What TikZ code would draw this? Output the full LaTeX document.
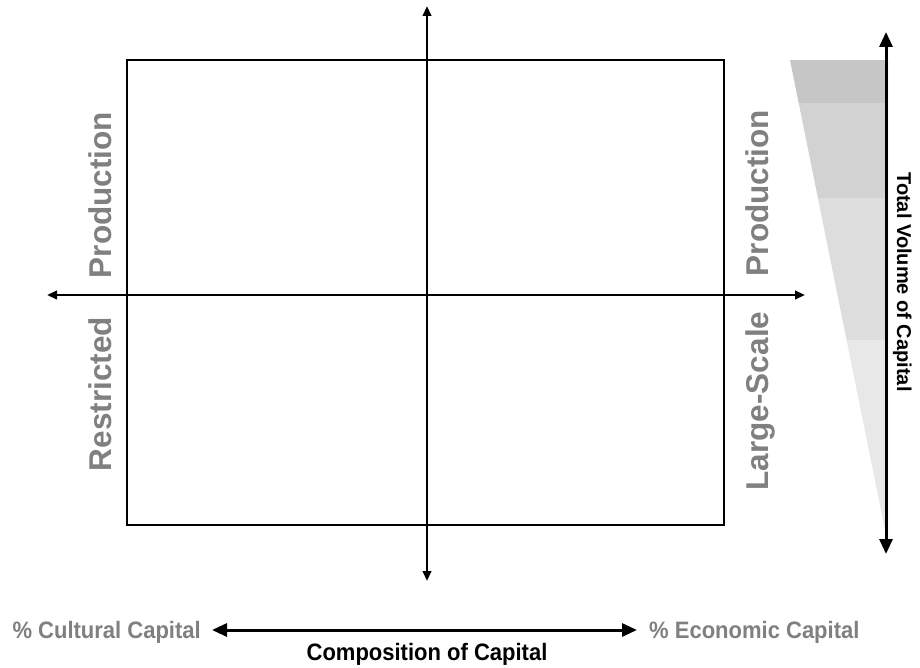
\documentclass[tikz,border=0pt]{standalone}
\usepackage{fontspec}
\setmainfont{Liberation Sans}
\usetikzlibrary{arrows.meta}
\definecolor{labelgray}{HTML}{808080}
\definecolor{bandA}{HTML}{C6C6C6}
\definecolor{bandB}{HTML}{D2D2D2}
\definecolor{bandC}{HTML}{DDDDDD}
\definecolor{bandD}{HTML}{E8E8E8}
\begin{document}
\begin{tikzpicture}[x=1pt,y=-1pt,
  axis/.style={line width=2.3pt,-{Triangle[length=10pt,width=8.5pt]}},
  bigarrow/.style={line width=3pt,{Triangle[length=15pt,width=13pt]}-{Triangle[length=15pt,width=13pt]}},
  fieldlabel/.style={text=labelgray,font=\bfseries\fontsize{31.5}{33}\selectfont,inner sep=0pt,anchor=base},
  poletext/.style={text=labelgray,font=\bfseries\fontsize{22}{24}\selectfont,inner sep=0pt,yscale=1.08},
  titletext/.style={text=black,font=\bfseries\fontsize{21}{23}\selectfont,inner sep=0pt,anchor=base}]
\useasboundingbox (0,0) rectangle (920,668);
\fill[white] (0,0) rectangle (920,668);

% graded wedge for the volume of capital
\begin{scope}
  \clip (790,60) -- (888,60) -- (888,545) -- cycle;
  \fill[bandA] (780,60) rectangle (890,103);
  \fill[bandB] (780,103) rectangle (890,198);
  \fill[bandC] (780,198) rectangle (890,340);
  \fill[bandD] (780,340) rectangle (890,550);
\end{scope}

% field frame
\draw[line width=2.8pt] (127,60) rectangle (724,525);

% axes
\coordinate (vtop) at (427,6);
\coordinate (vbot) at (427,581);
\coordinate (hleft) at (47,295);
\coordinate (hright) at (805,295);
\coordinate (vmid) at (427,295);
\draw[axis] (vmid) -- (vtop);
\draw[axis] (vmid) -- (vbot);
\draw[axis] (vmid) -- (hleft);
\draw[axis] (vmid) -- (hright);

% sector labels
\node[fieldlabel,rotate=90] (lprod) at (111,195) {Production};
\node[fieldlabel,rotate=90] (lrest) at (111,394) {Restricted};
\node[fieldlabel,rotate=90] (rprod) at (768,193) {Production};
\node[fieldlabel,rotate=90] (rlarge) at (768,401) {Large-Scale};

% total volume axis
\coordinate (tvtop) at (886,32);
\coordinate (tvbot) at (886,554);
\draw[bigarrow] (tvtop) -- (tvbot);
\node[titletext,font=\bfseries\fontsize{20}{22}\selectfont,rotate=-90] (tvlabel) at (897,282) {Total Volume of Capital};

% composition axis
\node[poletext,anchor=base east] (cult) at (201,638) {\% Cultural Capital};
\node[poletext,anchor=base west] (econ) at (649,638) {\% Economic Capital};
\coordinate (cl) at (212,630);
\coordinate (er) at (637,630);
\draw[bigarrow] (cl) -- (er);
\node[titletext,font=\bfseries\fontsize{22}{24}\selectfont,yscale=1.08] (comp) at (427,660) {Composition of Capital};
\end{tikzpicture}
\end{document}
